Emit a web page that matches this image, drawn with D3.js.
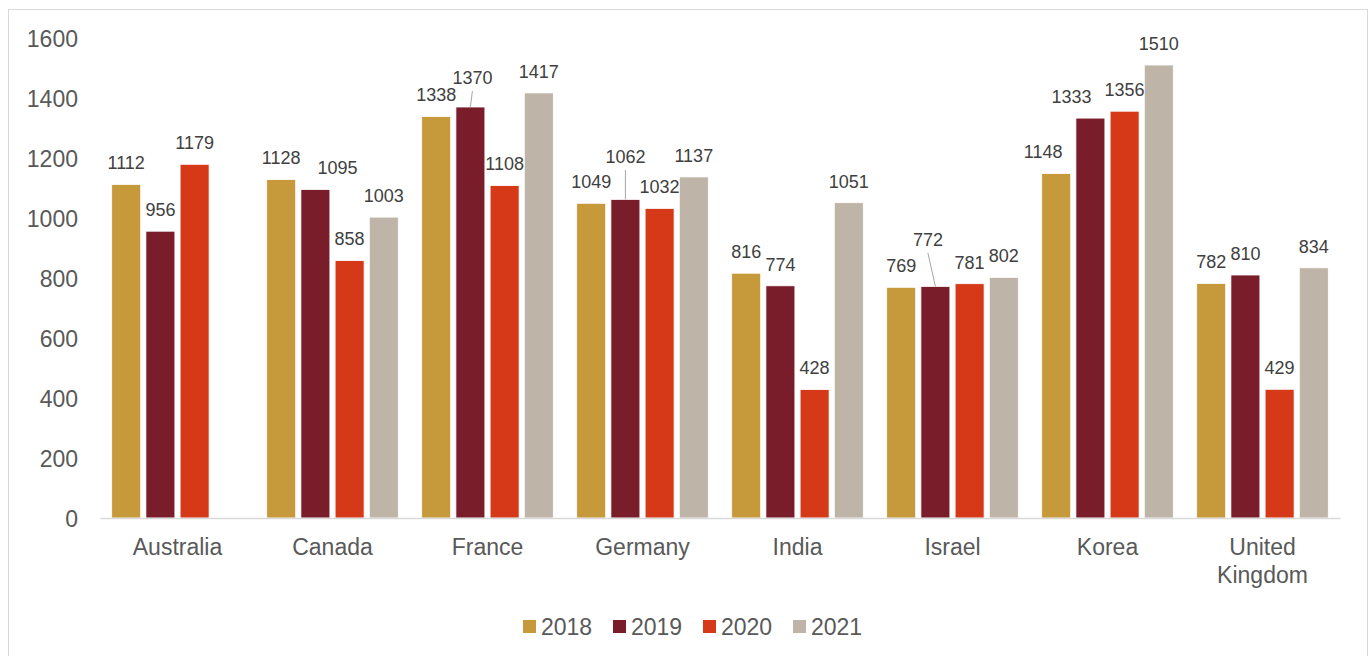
<!DOCTYPE html>
<html>
<head>
<meta charset="utf-8">
<script src="https://cdn.jsdelivr.net/npm/d3@7"></script>
<style>
  html, body { margin: 0; padding: 0; background: #fff; }
  svg { display: block; font-family: "Liberation Sans", Arial, sans-serif; }
</style>
</head>
<body>
<svg id="chart" width="1372" height="656"></svg>
<script>
// Categories, series and axis ticks
const countries = ["Australia", "Canada", "France", "Germany", "India", "Israel", "Korea", "United Kingdom"];
const years = ["2018", "2019", "2020", "2021"];
const values2018 = [1112, 1128, 1338, 1049, 816, 769, 1148, 782];
const values2019 = [956, 1095, 1370, 1062, 774, 772, 1333, 810];
const values2020 = [1179, 858, 1108, 1032, 428, 781, 1356, 429];
const values2021 = [null, 1003, 1417, 1137, 1051, 802, 1510, 834];
const yTicks = [0, 200, 400, 600, 800, 1000, 1200, 1400, 1600];

const seriesValues = [values2018, values2019, values2020, values2021];
const colors = { "2018": "#C69A3B", "2019": "#7A1D2A", "2020": "#D53917", "2021": "#BEB5A8" };

// Hand-placed labels that would otherwise collide (pixel offsets; leader = draw a connector)
const labelNudge = {
  "Canada|2019": { dx: 22, dy: 0 },
  "France|2019": { dx: 2, dy: -7.5, leader: true },
  "Germany|2019": { dx: 0, dy: -21, leader: true },
  "Israel|2019": { dx: -7.5, dy: -25, leader: true },
  "Korea|2018": { dx: -13, dy: 0 },
  "Korea|2019": { dx: -19, dy: 0 }
};

const rows = [];
countries.forEach((c, i) => {
  years.forEach((y, j) => {
    const v = seriesValues[j][i];
    if (v != null) rows.push({ country: c, year: y, value: v });
  });
});

const svg = d3.select("#chart");

// Outer chart frame
svg.append("rect")
  .attr("x", 8.5).attr("y", 9.5)
  .attr("width", 1359).attr("height", 660)
  .attr("fill", "#fff").attr("stroke", "#D9D9D9").attr("stroke-width", 1);

const x0 = d3.scaleBand().domain(countries).range([100, 1340]).padding(0);
const x1 = d3.scaleBand().domain(years).range([11.7, x0.bandwidth() - 11.7]).paddingInner(0.152).paddingOuter(0);
const y = d3.scaleLinear().domain([0, 1600]).range([518, 38]);

// Y axis tick labels (no axis line, no gridlines)
const yAxis = d3.axisLeft(y).tickValues(yTicks).tickFormat(d3.format("d")).tickSize(0).tickPadding(0);
const yg = svg.append("g").attr("transform", "translate(78,0)").call(yAxis);
yg.select(".domain").remove();
yg.selectAll("text")
  .attr("fill", "#595959")
  .style("font-size", "23px")
  .style("font-family", "'Liberation Sans', Arial, sans-serif")
  .attr("dy", "0.35em");

// Bars
svg.append("g").selectAll("rect")
  .data(rows)
  .join("rect")
  .attr("x", d => x0(d.country) + x1(d.year))
  .attr("y", d => y(d.value))
  .attr("width", x1.bandwidth())
  .attr("height", d => y(0) - y(d.value))
  .attr("fill", d => colors[d.year])
  .attr("stroke", "#ffffff")
  .attr("stroke-width", 0.8);

// X axis baseline and category labels
const xAxis = d3.axisBottom(x0).tickSize(0).tickPadding(0);
const xg = svg.append("g").attr("transform", `translate(0,${y(0)})`).call(xAxis);
xg.select(".domain").attr("stroke", "#D9D9D9").attr("stroke-width", 1.5);
xg.selectAll(".tick text").remove();
xg.selectAll(".tick").each(function(d) {
  const words = d === "United Kingdom" ? ["United", "Kingdom"] : [d];
  const t = d3.select(this).append("text")
    .attr("fill", "#595959")
    .attr("text-anchor", "middle")
    .style("font-size", "23px")
    .style("font-family", "'Liberation Sans', Arial, sans-serif");
  words.forEach((w, k) => {
    t.append("tspan").attr("x", 0).attr("y", 29 + k * 28).attr("dy", "0.35em").text(w);
  });
});

// Data labels and leader lines
const lab = svg.append("g");
rows.forEach(d => {
  const n = labelNudge[d.country + "|" + d.year] || { dx: 0, dy: 0 };
  const bx = x0(d.country) + x1(d.year) + x1.bandwidth() / 2;
  const top = y(d.value);
  const lx = bx + n.dx;
  const ly = top - 21.5 + n.dy;
  if (n.leader) {
    lab.append("line")
      .attr("x1", lx).attr("y1", ly + 13)
      .attr("x2", bx).attr("y2", top)
      .attr("stroke", "#A6A6A6").attr("stroke-width", 1);
  }
  lab.append("text")
    .attr("x", lx).attr("y", ly).attr("dy", "0.35em")
    .attr("text-anchor", "middle")
    .attr("fill", "#404040")
    .style("font-size", "18px")
    .text(d.value);
});

// Legend
const legend = svg.append("g").attr("transform", "translate(523,620)");
years.forEach((yr, i) => {
  const g = legend.append("g").attr("transform", `translate(${i * 90},0)`);
  g.append("rect").attr("width", 13).attr("height", 13).attr("fill", colors[yr]);
  g.append("text")
    .attr("x", 18).attr("y", 6.5).attr("dy", "0.35em")
    .attr("fill", "#595959")
    .style("font-size", "23px")
    .text(yr);
});
</script>
</body>
</html>
